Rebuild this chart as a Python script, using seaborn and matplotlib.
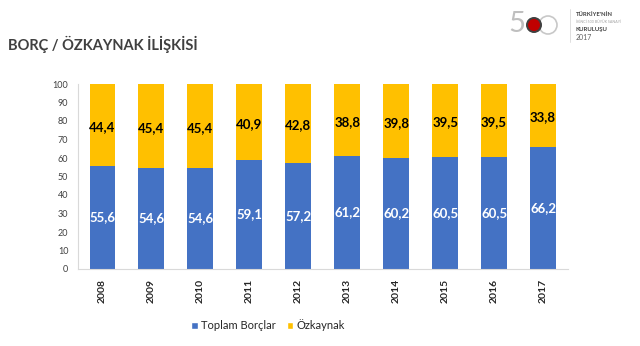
import matplotlib
matplotlib.use("Agg")
import matplotlib.pyplot as plt
from matplotlib.patches import Patch, Circle
import seaborn as sns
import pandas as pd

years = ["2008", "2009", "2010", "2011", "2012", "2013", "2014", "2015", "2016", "2017"]
toplam_borclar = [55.6, 54.6, 54.6, 59.1, 57.2, 61.2, 60.2, 60.5, 60.5, 66.2]
ozkaynak = [44.4, 45.4, 45.4, 40.9, 42.8, 38.8, 39.8, 39.5, 39.5, 33.8]
y_ticks = [0, 10, 20, 30, 40, 50, 60, 70, 80, 90, 100]

BLUE = "#4472C4"
YELLOW = "#FFC000"

sns.set_style("white")
plt.rcParams["font.family"] = ["Lato", "DejaVu Sans"]

df = pd.DataFrame({"year": years, "borc": toplam_borclar, "ozk": ozkaynak})
df["total"] = df["borc"] + df["ozk"]

W, H = 640, 346
fig = plt.figure(figsize=(6.4, 3.46), dpi=100)
ax = fig.add_axes([78 / W, 1 - 269 / H, (567.5 - 78) / W, (269 - 84) / H])

# Stacked bars: full-height equity bar behind, debt share in front
sns.barplot(data=df, x="year", y="total", color=YELLOW, width=0.53,
            saturation=1, ax=ax, linewidth=0)
sns.barplot(data=df, x="year", y="borc", color=BLUE, width=0.53,
            saturation=1, ax=ax, linewidth=0)

for i, (b, o) in enumerate(zip(toplam_borclar, ozkaynak)):
    ax.text(i, b / 2, f"{b:.1f}".replace(".", ","), ha="center", va="center",
            color="white", fontsize=9.5, fontweight="bold")
    ax.text(i, b + o / 2 - 1, f"{o:.1f}".replace(".", ","), ha="center", va="center",
            color="black", fontsize=9.5, fontweight="bold")

ax.set_ylim(0, 100)
ax.set_xlim(-0.5, len(years) - 0.5)
ax.set_yticks(y_ticks)
ax.tick_params(axis="y", labelsize=6.5, colors="#404040", length=0, pad=7)
ax.tick_params(axis="x", labelsize=7.5, length=0, pad=7)
for lbl in ax.get_xticklabels():
    lbl.set_rotation(90)
    lbl.set_fontweight("bold")
ax.set_xlabel("")
ax.set_ylabel("")
for side in ["top", "right"]:
    ax.spines[side].set_visible(False)
for side in ["left", "bottom"]:
    ax.spines[side].set_color("#D9D9D9")
    ax.spines[side].set_linewidth(0.8)

handles = [Patch(facecolor=BLUE, label="Toplam Borçlar"),
           Patch(facecolor=YELLOW, label="Özkaynak")]
fig.legend(handles=handles, loc="center", bbox_to_anchor=(268 / W, 1 - 325 / H),
           ncol=2, frameon=False, fontsize=8, handlelength=0.6,
           handleheight=0.6, handletextpad=0.3, columnspacing=1.0)

fig.text(8 / W, 1 - 44 / H, "BORÇ / ÖZKAYNAK İLİŞKİSİ", fontsize=10.5,
         fontweight="bold", color="#404040", va="center")

# Anniversary logo in the top-right corner
fig.text(517 / W, 1 - 24 / H, "5", fontsize=21, color="#BFBFBF",
         va="center", ha="center")
logo_ax = fig.add_axes([522 / W, 1 - 40 / H, 40 / W, 30 / H])
logo_ax.set_xlim(522, 562)
logo_ax.set_ylim(40, 10)
logo_ax.axis("off")
logo_ax.add_patch(Circle((548, 25), 9, facecolor="none", edgecolor="#C8C8C8", lw=1.2))
logo_ax.add_patch(Circle((534, 25), 8, facecolor="#404040", edgecolor="none"))
logo_ax.add_patch(Circle((534, 25), 6, facecolor="#C00000", edgecolor="none"))
fig.add_artist(plt.Line2D([570 / W, 570 / W], [1 - 42 / H, 1 - 9 / H],
                          color="#D9D9D9", lw=0.6))
fig.text(576 / W, 1 - 15 / H, "TÜRKİYE'NİN", fontsize=4.3, fontweight="bold",
         color="#404040", va="center")
fig.text(576 / W, 1 - 22 / H, "İKİNCİ 500 BÜYÜK SANAYİ", fontsize=2.6,
         color="#A0A0A0", va="center")
fig.text(576 / W, 1 - 29 / H, "KURULUŞU", fontsize=4.3, fontweight="bold",
         color="#404040", va="center")
fig.text(576 / W, 1 - 37 / H, "2017", fontsize=5, color="#606060", va="center")

fig.savefig("out.png", dpi=100)
